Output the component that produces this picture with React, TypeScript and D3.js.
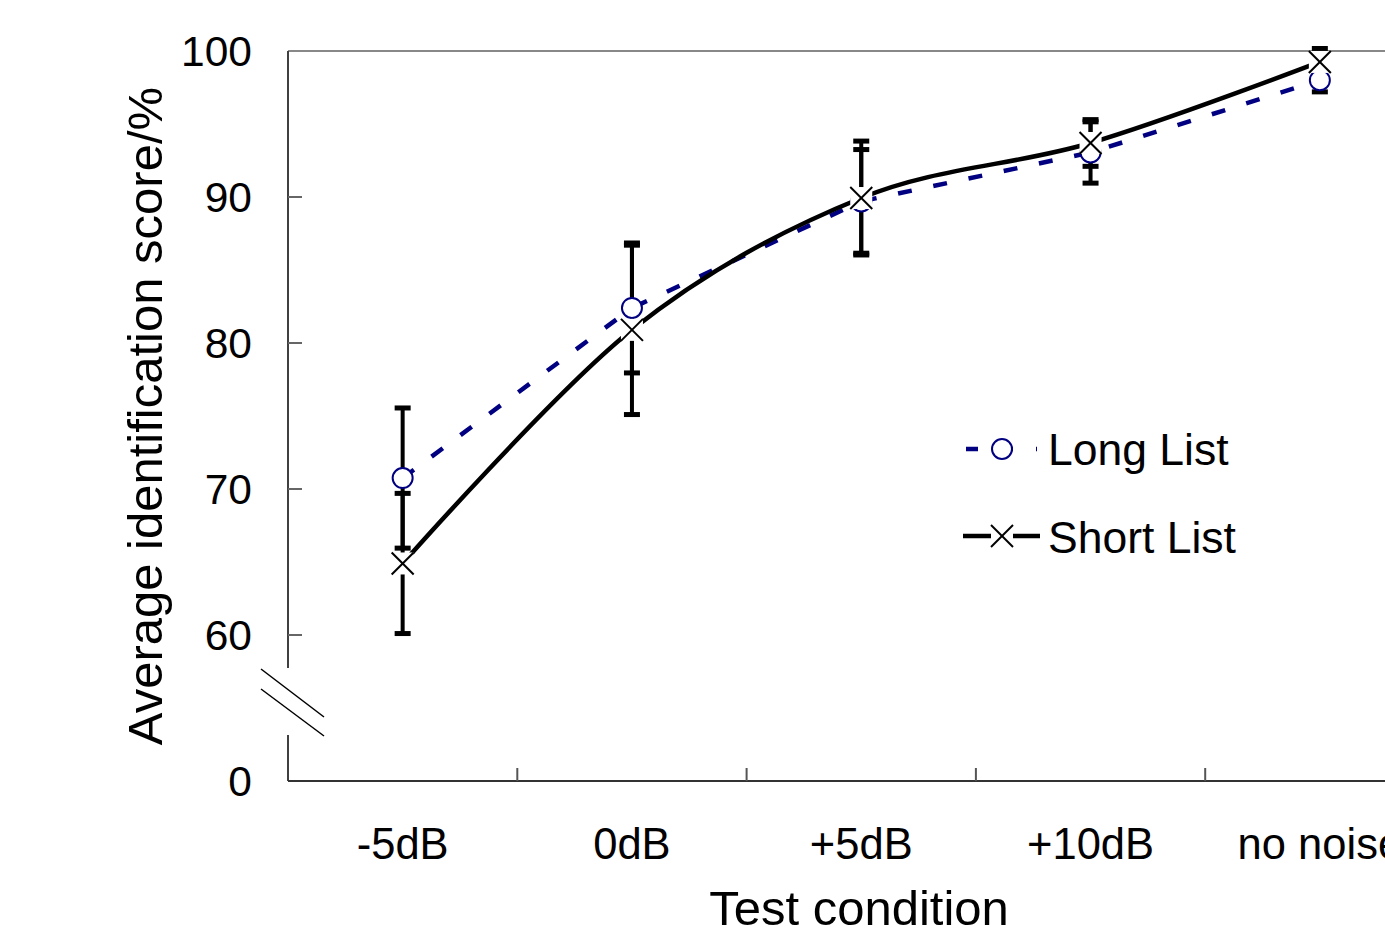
import React from "react";
import * as d3 from "d3";

const categories = ["-5dB", "0dB", "+5dB", "+10dB", "no noise"];
const longMean = [70.75, 82.4, 89.7, 93.05, 98.0];
const longErr = [4.8, 4.45, 3.55, 2.1, 0.8];
const shortMean = [64.9, 80.9, 89.93, 93.7, 99.25];
const shortErr = [4.8, 5.8, 3.9, 1.6, 0.92];
const yTicks = [0, 60, 70, 80, 90, 100];
const seriesNames = ["Long List", "Short List"];

const W = 1385;
const H = 945;
const FONT = "'Liberation Sans', Arial, Helvetica, sans-serif";
const NAVY = "#000080";

export default function App() {
  const x = d3.scaleBand<string>().domain(categories).range([288, 288 + 5 * 229.3]).padding(0);
  const y = d3.scaleLinear().domain([0, 60, 100]).range([781, 635, 51]);
  const cx = (c: string) => (x(c) as number) + x.bandwidth() / 2;

  const longLine = d3
    .line<number>()
    .x((_, i) => cx(categories[i]))
    .y((d) => y(d))
    .curve(d3.curveLinear)(longMean) as string;
  const shortLine = d3
    .line<number>()
    .x((_, i) => cx(categories[i]))
    .y((d) => y(d))
    .curve(d3.curveCatmullRom.alpha(0))(shortMean) as string;

  const boundaries = categories.slice(1).map((c) => x(c) as number);
  const axisX = 288;

  const errBar = (m: number, e: number, i: number, key: string) => {
    const xc = cx(categories[i]);
    return (
      <g key={key}>
        <line x1={xc} x2={xc} y1={y(m + e)} y2={y(m - e)} stroke="#000" strokeWidth={4} />
        <line x1={xc - 8} x2={xc + 8} y1={y(m + e)} y2={y(m + e)} stroke="#000" strokeWidth={5} />
        <line x1={xc - 8} x2={xc + 8} y1={y(m - e)} y2={y(m - e)} stroke="#000" strokeWidth={5} />
      </g>
    );
  };

  const cross = (px: number, py: number, key: string) => (
    <g key={key}>
      <rect x={px - 11} y={py - 11} width={22} height={22} fill="#fff" />
      <line x1={px - 11} y1={py - 11} x2={px + 11} y2={py + 11} stroke="#000" strokeWidth={2} />
      <line x1={px - 11} y1={py + 11} x2={px + 11} y2={py - 11} stroke="#000" strokeWidth={2} />
    </g>
  );

  return (
    <svg
      width={W}
      height={H}
      style={{ position: "absolute", left: 0, top: 0, background: "#fff" }}
      fontFamily={FONT}
    >
      <rect x={0} y={0} width={W} height={H} fill="#fff" />
      {/* top border */}
      <line x1={axisX} x2={W} y1={y(100)} y2={y(100)} stroke="#888" strokeWidth={2} />
      {/* y axis with break */}
      <line x1={axisX} x2={axisX} y1={y(100)} y2={668} stroke="#404040" strokeWidth={2} />
      <line x1={axisX} x2={axisX} y1={735} y2={y(0)} stroke="#404040" strokeWidth={2} />
      <line x1={261} y1={669} x2={324} y2={717} stroke="#000" strokeWidth={1.5} />
      <line x1={261} y1={689} x2={324} y2={736} stroke="#000" strokeWidth={1.5} />
      {/* y ticks */}
      {yTicks.map((t) => (
        <g key={"yt" + t}>
          {t !== 0 && t !== 100 && (
            <line x1={axisX} x2={axisX + 14} y1={y(t)} y2={y(t)} stroke="#666" strokeWidth={2} />
          )}
          <text x={252} y={y(t) + 15} textAnchor="end" fontSize={42.5} fill="#000">
            {t}
          </text>
        </g>
      ))}
      {/* x axis */}
      <line x1={axisX} x2={W} y1={y(0)} y2={y(0)} stroke="#333" strokeWidth={2} />
      {boundaries.map((b, i) => (
        <line key={"xt" + i} x1={b} x2={b} y1={y(0)} y2={y(0) - 13} stroke="#555" strokeWidth={2} />
      ))}
      {categories.map((c) => (
        <text key={"xl" + c} x={cx(c)} y={859} textAnchor="middle" fontSize={43.5} fill="#000">
          {c}
        </text>
      ))}
      {/* axis titles */}
      <text x={859} y={925} textAnchor="middle" fontSize={49} fill="#000">
        Test condition
      </text>
      <text
        transform={`translate(162,${416}) rotate(-90)`}
        textAnchor="middle"
        fontSize={49}
        fill="#000"
      >
        Average identification score/%
      </text>
      {/* error bars */}
      {longMean.map((m, i) => errBar(m, longErr[i], i, "le" + i))}
      {shortMean.map((m, i) => errBar(m, shortErr[i], i, "se" + i))}
      {/* lines */}
      <path d={longLine} fill="none" stroke={NAVY} strokeWidth={4.5} strokeDasharray="14,22" />
      <path d={shortLine} fill="none" stroke="#000" strokeWidth={4.5} />
      {/* markers */}
      {longMean.map((m, i) => (
        <circle key={"lm" + i} cx={cx(categories[i])} cy={y(m)} r={10} fill="#fff" stroke={NAVY} strokeWidth={2} />
      ))}
      {shortMean.map((m, i) => cross(cx(categories[i]), y(m), "sm" + i))}
      {/* legend */}
      <line x1={966} x2={1037} y1={449} y2={449} stroke={NAVY} strokeWidth={4.5} strokeDasharray="12,23" />
      <circle cx={1002} cy={449} r={10} fill="#fff" stroke={NAVY} strokeWidth={2} />
      <text x={1048} y={465} fontSize={44.5} fill="#000">
        {seriesNames[0]}
      </text>
      <line x1={963} x2={1040} y1={536} y2={536} stroke="#000" strokeWidth={4.5} />
      {cross(1002, 536, "legx")}
      <text x={1048} y={553} fontSize={44.5} fill="#000">
        {seriesNames[1]}
      </text>
    </svg>
  );
}
